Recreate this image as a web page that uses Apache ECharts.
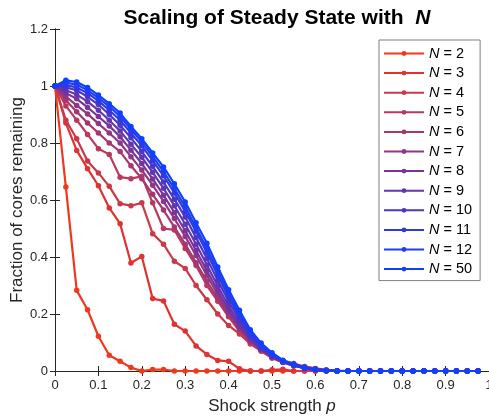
<!DOCTYPE html>
<html>
<head>
<meta charset="utf-8">
<script src="https://cdn.jsdelivr.net/npm/echarts@6/dist/echarts.min.js"></script>
<style>
  html, body { margin: 0; padding: 0; background: #fff; }
  #chart { width: 489px; height: 418px; }
</style>
</head>
<body>
<div id="chart"></div>
<script>
// shock strength p
var pVals = [0,0.025,0.05,0.075,0.1,0.125,0.15,0.175,0.2,0.225,
  0.25,0.275,0.3,0.325,0.35,0.375,0.4,0.425,0.45,0.475,
  0.5,0.525,0.55,0.575,0.6,0.625,0.65,0.675,0.7,0.725,
  0.75,0.775,0.8,0.825,0.85,0.875,0.9,0.925,0.95,0.975];

var nLabels = [2, 3, 4, 5, 6, 7, 8, 9, 10, 11, 12, 50];

// fraction of cores remaining, one array per N
var frac2 = [1,0.646,0.283,0.215,0.122,0.055,0.034,0.012,0,0.005,
  0.005,0,0,0,0,0,0,0,0,0,
  0,0,0,0,0,0,0,0,0,0,
  0,0,0,0,0,0,0,0,0,0];
var frac3 = [1,0.87,0.774,0.71,0.65,0.572,0.517,0.379,0.402,0.254,
  0.246,0.164,0.14,0.088,0.058,0.037,0.034,0.008,0,0,
  0.004,0.006,0,0,0,0,0,0,0,0,
  0,0,0,0,0,0,0,0,0,0];
var frac4 = [1,0.88,0.815,0.737,0.695,0.648,0.587,0.58,0.59,0.482,
  0.445,0.385,0.36,0.3,0.25,0.2,0.16,0.13,0.095,0.07,
  0.045,0.03,0.018,0.012,0.006,0.002,0,0,0,0,
  0,0,0,0,0,0,0,0,0,0];
var frac5 = [1,0.93,0.88,0.83,0.78,0.76,0.68,0.675,0.683,0.59,
  0.5,0.495,0.43,0.37,0.3,0.245,0.19,0.14,0.1,0.07,
  0.05,0.035,0.02,0.012,0.006,0.002,0,0,0,0,
  0,0,0,0,0,0,0,0,0,0];
var frac6 = [1,0.95,0.91,0.87,0.835,0.8,0.77,0.72,0.675,0.62,
  0.565,0.505,0.445,0.38,0.315,0.255,0.195,0.148,0.105,0.075,
  0.052,0.036,0.026,0.016,0.009,0.004,0.001,0,0,0,
  0,0,0,0,0,0,0,0,0,0];
var frac7 = [1,0.963,0.932,0.902,0.868,0.835,0.8,0.752,0.705,0.652,
  0.595,0.535,0.472,0.405,0.335,0.268,0.205,0.15,0.106,0.074,
  0.05,0.034,0.023,0.014,0.008,0.003,0,0,0,0,
  0,0,0,0,0,0,0,0,0,0];
var frac8 = [1,0.975,0.955,0.925,0.893,0.86,0.822,0.775,0.728,0.674,
  0.617,0.556,0.492,0.423,0.352,0.282,0.215,0.157,0.11,0.076,
  0.05,0.032,0.02,0.012,0.006,0.002,0,0,0,0,
  0,0,0,0,0,0,0,0,0,0];
var frac9 = [1,0.985,0.97,0.945,0.915,0.88,0.842,0.796,0.75,0.697,
  0.641,0.58,0.515,0.445,0.372,0.298,0.228,0.166,0.115,0.078,
  0.05,0.031,0.019,0.01,0.004,0.001,0,0,0,0,
  0,0,0,0,0,0,0,0,0,0];
var frac10 = [1,0.995,0.985,0.962,0.935,0.9,0.862,0.818,0.77,0.718,
  0.663,0.603,0.54,0.468,0.395,0.318,0.245,0.178,0.122,0.08,
  0.052,0.032,0.02,0.009,0.004,0.001,0,0,0,0,
  0,0,0,0,0,0,0,0,0,0];
var frac11 = [1,1.003,0.995,0.975,0.948,0.915,0.88,0.835,0.79,0.738,
  0.685,0.625,0.56,0.49,0.415,0.336,0.26,0.19,0.13,0.086,
  0.055,0.034,0.021,0.01,0.004,0.001,0,0,0,0,
  0,0,0,0,0,0,0,0,0,0];
var frac12 = [1,1.012,1.005,0.985,0.958,0.928,0.893,0.848,0.803,0.752,
  0.7,0.64,0.576,0.503,0.43,0.35,0.272,0.2,0.137,0.09,
  0.058,0.036,0.022,0.01,0.005,0.002,0,0,0,0,
  0,0,0,0,0,0,0,0,0,0];
var frac50 = [1,1.02,1.014,0.995,0.968,0.938,0.905,0.858,0.815,0.765,
  0.716,0.657,0.593,0.52,0.448,0.365,0.285,0.213,0.145,0.098,
  0.064,0.038,0.025,0.012,0.006,0.002,0,0,0,0,
  0,0,0,0,0,0,0,0,0,0];

var allFrac = [frac2, frac3, frac4, frac5, frac6, frac7, frac8, frac9, frac10, frac11, frac12, frac50];

// red -> blue
var colors = ['#f0381e','#e03331','#cd3848','#ba385d','#a63670','#913585',
  '#7a3398','#6236ae','#4b36c8','#3338de','#203ef0','#1040ff'];

var xTicks = [0, 0.1, 0.2, 0.3, 0.4, 0.5, 0.6, 0.7, 0.8, 0.9, 1];
var yTicks = [0, 0.2, 0.4, 0.6, 0.8, 1, 1.2];

var axisColor = '#262626';
var font = '"Liberation Sans", Arial, Helvetica, sans-serif';

var series = [];
for (var s = 0; s < allFrac.length; s++) {
  var pts = [];
  for (var i = 0; i < pVals.length; i++) {
    pts.push([pVals[i], allFrac[s][i]]);
  }
  series.push({
    name: 'N = ' + nLabels[s],
    type: 'line',
    data: pts,
    symbol: 'circle',
    symbolSize: 5.5,
    showSymbol: true,
    showAllSymbol: true,
    color: colors[s],
    lineStyle: { width: 2.2, color: colors[s] },
    itemStyle: { color: colors[s] },
    z: 2 + s
  });
}

var chart = echarts.init(document.getElementById('chart'), null, { renderer: 'canvas' });

function baseAxis(extra) {
  var a = {
    type: 'value',
    axisLine: { show: true, lineStyle: { color: axisColor, width: 1 } },
    axisTick: { show: true, inside: true, length: 5, lineStyle: { color: axisColor } },
    splitLine: { show: false },
    axisLabel: { show: false }
  };
  for (var k in extra) a[k] = extra[k];
  return a;
}

chart.setOption({
  animation: false,
  backgroundColor: '#fff',
  title: {
    text: '{a|Scaling of Steady State with  }{b|N}',
    left: 272,
    top: 3,
    textAlign: 'center',
    textStyle: {
      rich: {
        a: { fontFamily: font, fontSize: 21, fontWeight: 'bold', color: '#000' },
        b: { fontFamily: font, fontSize: 21, fontWeight: 'bold', fontStyle: 'italic', color: '#000' }
      }
    }
  },
  grid: { left: 55, right: 0, top: 29, bottom: 47, outerBoundsMode: 'none', containLabel: false },
  legend: {
    orient: 'vertical',
    left: 379,
    top: 40,
    itemWidth: 40,
    itemHeight: 6,
    itemGap: 4.6,
    padding: [6, 8, 4, 4],
    backgroundColor: '#fff',
    borderColor: '#7f7f7f',
    borderWidth: 1,
    data: nLabels.map(function (n) { return 'N = ' + n; }),
    formatter: function (name) {
      return '{i|N}{t|' + name.slice(1) + '}';
    },
    textStyle: {
      rich: {
        i: { fontFamily: font, fontSize: 14.5, fontStyle: 'italic', color: '#000' },
        t: { fontFamily: font, fontSize: 14.5, color: '#000' }
      }
    }
  },
  xAxis: [
    baseAxis({
      position: 'bottom',
      min: xTicks[0],
      max: xTicks[xTicks.length - 1],
      interval: 0.1,
      axisLabel: { show: true, color: axisColor, fontFamily: font, fontSize: 13, margin: 8 },
      name: '{t|Shock strength }{i|p}',
      nameLocation: 'middle',
      nameGap: 27,
      nameMoveOverlap: false,
      nameTextStyle: {
        rich: {
          t: { fontFamily: font, fontSize: 17, color: axisColor },
          i: { fontFamily: font, fontSize: 17, fontStyle: 'italic', color: axisColor }
        }
      }
    }),
    baseAxis({
      position: 'top',
      min: xTicks[0],
      max: xTicks[xTicks.length - 1],
      interval: 0.1
    })
  ],
  yAxis: [
    baseAxis({
      position: 'left',
      min: yTicks[0],
      max: yTicks[yTicks.length - 1],
      interval: 0.2,
      axisLabel: { show: true, color: axisColor, fontFamily: font, fontSize: 13, margin: 7 },
      name: 'Fraction of cores remaining',
      nameLocation: 'middle',
      nameGap: 29,
      nameMoveOverlap: false,
      nameTextStyle: { fontFamily: font, fontSize: 17, color: axisColor }
    }),
    baseAxis({
      position: 'right',
      min: yTicks[0],
      max: yTicks[yTicks.length - 1],
      interval: 0.2
    })
  ],
  series: series
});
</script>
</body>
</html>
